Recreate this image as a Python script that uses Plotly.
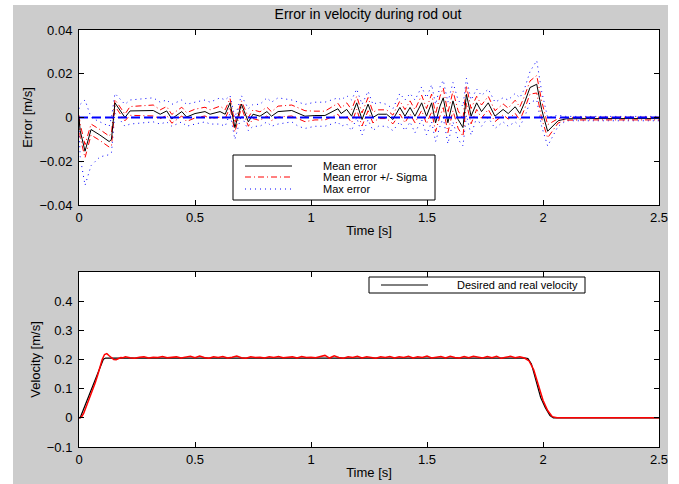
import plotly.graph_objects as go
from plotly.subplots import make_subplots

# ---------------- data: top panel (error statistics) ----------------
t_err = [0.000, 0.005, 0.026, 0.052, 0.09, 0.13, 0.14, 0.155, 0.198, 0.22,
         0.32, 0.35, 0.378, 0.40, 0.443, 0.464, 0.50, 0.543, 0.565, 0.608,
         0.63, 0.651, 0.672, 0.70, 0.73, 0.75, 0.78, 0.81, 0.83, 0.858,
         0.917, 0.945, 0.974, 1.017, 1.06, 1.116, 1.13, 1.154, 1.175, 1.197,
         1.22, 1.246, 1.267, 1.29, 1.326, 1.353, 1.383, 1.405, 1.427, 1.448,
         1.477, 1.498, 1.52, 1.537, 1.556, 1.57, 1.59, 1.612, 1.634, 1.655,
         1.67, 1.69, 1.714, 1.735, 1.764, 1.793, 1.828, 1.85, 1.88, 1.90,
         1.92, 1.944, 1.973, 1.994, 2.02, 2.065, 2.10, 2.2, 2.3, 2.4, 2.5]
mean_err = [0.000, -0.006, -0.0154, -0.0055, -0.008, -0.011, -0.010, 0.0067, 0.000, 0.003,
            0.0032, 0.0015, 0.003, -0.0006, 0.0027, 0.0002, 0.0018, 0.0027, 0.0015, 0.0027,
            0.0015, 0.0067, -0.0046, 0.0061, -0.002, 0.0015, 0.0006, 0.0027, 0.0006, 0.0027,
            0.0032, 0.0018, 0.0006, 0.0009, 0.0009, 0.004, 0.0018, 0.0037, 0.0006, 0.0067,
            -0.0009, 0.0061, 0.000, 0.0015, 0.0015, -0.0009, 0.0046, 0.0006, 0.0046, 0.0006,
            0.0067, 0.0006, 0.0067, -0.0024, 0.0052, 0.009, -0.0024, 0.0076, -0.0009, -0.0046,
            0.0106, 0.0006, 0.0067, 0.0027, 0.0067, 0.0006, 0.0037, 0.0018, 0.0049, 0.0018,
            0.0067, 0.0137, 0.0152, 0.0037, -0.0063, -0.0015, -0.0006, -0.0005, -0.0004, -0.0005, -0.0005]
sigma_err = [0.001, 0.003, 0.003, 0.0025, 0.0025, 0.0025, 0.003, 0.0015, 0.0015, 0.002,
             0.0025, 0.002, 0.002, 0.002, 0.002, 0.002, 0.002, 0.002, 0.002, 0.0025,
             0.002, 0.002, 0.002, 0.0015, 0.002, 0.002, 0.002, 0.002, 0.002, 0.0025,
             0.0025, 0.0025, 0.0025, 0.002, 0.002, 0.0025, 0.0025, 0.003, 0.003, 0.003,
             0.003, 0.003, 0.0025, 0.002, 0.002, 0.002, 0.003, 0.003, 0.003, 0.003,
             0.0035, 0.0035, 0.004, 0.004, 0.0045, 0.0045, 0.0045, 0.0045, 0.004, 0.004,
             0.004, 0.0035, 0.003, 0.003, 0.003, 0.0025, 0.0025, 0.0025, 0.003, 0.003,
             0.003, 0.003, 0.004, 0.004, 0.003, 0.001, 0.0006, 0.0006, 0.0006, 0.0006, 0.0006]
max_err = [0.004, 0.006, 0.008, 0.000, -0.002, -0.004, 0.000, 0.011, 0.006, 0.008,
           0.009, 0.007, 0.008, 0.006, 0.008, 0.006, 0.007, 0.008, 0.007, 0.009,
           0.008, 0.010, 0.000, 0.010, 0.004, 0.006, 0.006, 0.009, 0.007, 0.009,
           0.008, 0.007, 0.006, 0.007, 0.007, 0.009, 0.008, 0.010, 0.008, 0.013,
           0.006, 0.012, 0.006, 0.007, 0.006, 0.004, 0.011, 0.008, 0.011, 0.008,
           0.014, 0.009, 0.015, 0.006, 0.014, 0.017, 0.007, 0.016, 0.008, 0.005,
           0.018, 0.008, 0.013, 0.010, 0.013, 0.007, 0.009, 0.008, 0.011, 0.009,
           0.013, 0.021, 0.026, 0.012, 0.000, 0.001, 0.0005, 0.0005, 0.0005, 0.0005, 0.0005]
min_err = [-0.004, -0.018, -0.031, -0.022, -0.018, -0.017, -0.016, 0.002, -0.004, -0.003,
           -0.002, -0.003, -0.002, -0.004, -0.002, -0.004, -0.003, -0.002, -0.003, -0.003,
           -0.004, 0.002, -0.010, 0.001, -0.006, -0.004, -0.004, -0.002, -0.004, -0.003,
           -0.002, -0.004, -0.005, -0.004, -0.004, -0.002, -0.004, -0.003, -0.006, 0.000,
           -0.008, -0.001, -0.006, -0.004, -0.004, -0.006, -0.002, -0.006, -0.002, -0.007,
           -0.001, -0.008, -0.002, -0.011, -0.004, 0.000, -0.012, -0.002, -0.010, -0.013,
           0.001, -0.008, 0.000, -0.004, 0.000, -0.005, -0.002, -0.004, -0.002, -0.004,
           0.000, 0.007, 0.008, -0.004, -0.013, -0.004, -0.0015, -0.0015, -0.0015, -0.0015, -0.0015]
t_zero = [0.0, 2.5]
zero_ref = [0.0, 0.0]

# ---------------- data: bottom panel (velocity) ----------------
t_des = [0.0, 0.005, 0.105, 0.115, 1.925, 1.935, 1.95, 1.97, 1.99, 2.01, 2.03, 2.045, 2.5]
v_des = [0.0, 0.0, 0.201, 0.205, 0.205, 0.203, 0.185, 0.125, 0.07, 0.035, 0.008, 0.0, 0.0]

t_real = [0.00, 0.01, 0.02, 0.03, 0.04, 0.05, 0.06, 0.07, 0.08, 0.09,
          0.10, 0.11, 0.12, 0.13, 0.14, 0.15, 0.16, 0.17, 0.18, 0.19, 0.20,
          0.22, 0.24, 0.26, 0.28, 0.30, 0.32, 0.34, 0.36, 0.38, 0.40,
          0.42, 0.44, 0.46, 0.48, 0.50, 0.52, 0.54, 0.56, 0.58, 0.60,
          0.62, 0.64, 0.66, 0.68, 0.70, 0.72, 0.74, 0.76, 0.78, 0.80,
          0.82, 0.84, 0.86, 0.88, 0.90, 0.92, 0.94, 0.96, 0.98, 1.00,
          1.02, 1.04, 1.06, 1.08, 1.10, 1.12, 1.14, 1.16, 1.18, 1.20,
          1.22, 1.24, 1.26, 1.28, 1.30, 1.32, 1.34, 1.36, 1.38, 1.40,
          1.42, 1.44, 1.46, 1.48, 1.50, 1.52, 1.54, 1.56, 1.58, 1.60,
          1.62, 1.64, 1.66, 1.68, 1.70, 1.72, 1.74, 1.76, 1.78, 1.80,
          1.82, 1.84, 1.86, 1.88, 1.90, 1.92, 1.94, 1.96, 1.98, 2.00,
          2.02, 2.04, 2.06, 2.5]
v_real = [0.000, 0.002, 0.015, 0.035, 0.055, 0.075, 0.097, 0.120, 0.145, 0.175,
          0.200, 0.217, 0.220, 0.213, 0.205, 0.200, 0.199, 0.203, 0.207, 0.206, 0.209,
          0.206, 0.204, 0.208, 0.209, 0.205, 0.208, 0.207, 0.210, 0.206, 0.208,
          0.209, 0.205, 0.207, 0.211, 0.206, 0.212, 0.207, 0.204, 0.209, 0.207,
          0.210, 0.205, 0.208, 0.212, 0.206, 0.204, 0.209, 0.207, 0.208, 0.205,
          0.209, 0.207, 0.210, 0.206, 0.208, 0.209, 0.205, 0.210, 0.207, 0.208,
          0.206, 0.209, 0.214, 0.205, 0.213, 0.207, 0.204, 0.209, 0.207, 0.211,
          0.205, 0.209, 0.207, 0.204, 0.209, 0.207, 0.210, 0.205, 0.209, 0.207,
          0.211, 0.205, 0.209, 0.207, 0.212, 0.205, 0.208, 0.210, 0.205, 0.211,
          0.207, 0.205, 0.210, 0.206, 0.211, 0.207, 0.205, 0.210, 0.206, 0.211,
          0.204, 0.208, 0.211, 0.206, 0.209, 0.205, 0.195, 0.165, 0.110, 0.060,
          0.025, 0.004, 0.000, 0.000]

x_ticks = [0, 0.5, 1, 1.5, 2, 2.5]
err_ticks = [-0.04, -0.02, 0, 0.02, 0.04]
vel_ticks = [-0.1, 0, 0.1, 0.2, 0.3, 0.4]

# ---------------- figure ----------------
FONT = "Liberation Sans, Arial, Helvetica, sans-serif"
W, H = 679, 484
ML, MR, MT, MB = 79, 20, 30, 37
PW, PH = W - ML - MR, H - MT - MB

def fy(ypx):
    return (H - MB - ypx) / PH

def fx(xpx):
    return (xpx - ML) / PW

fig = make_subplots(rows=2, cols=1)

upper = [m + s for m, s in zip(mean_err, sigma_err)]
lower = [m - s for m, s in zip(mean_err, sigma_err)]

DOT = "1px,4px"
DASHDOT = "6px,3px,1px,3px"

fig.add_trace(go.Scatter(x=t_err, y=max_err, mode="lines", name="Max error",
                         line=dict(color="#0000ff", width=1, dash=DOT)), row=1, col=1)
fig.add_trace(go.Scatter(x=t_err, y=min_err, mode="lines", showlegend=False,
                         line=dict(color="#0000ff", width=1, dash=DOT)), row=1, col=1)
fig.add_trace(go.Scatter(x=t_err, y=upper, mode="lines", name="Mean error +/- Sigma",
                         line=dict(color="#ff0000", width=1, dash=DASHDOT)), row=1, col=1)
fig.add_trace(go.Scatter(x=t_err, y=lower, mode="lines", showlegend=False,
                         line=dict(color="#ff0000", width=1, dash=DASHDOT)), row=1, col=1)
fig.add_trace(go.Scatter(x=t_err, y=mean_err, mode="lines", name="Mean error",
                         line=dict(color="#000000", width=1)), row=1, col=1)
fig.add_trace(go.Scatter(x=t_zero, y=zero_ref, mode="lines", showlegend=False,
                         line=dict(color="#0000ff", width=2, dash="9px,4px")), row=1, col=1)

fig.add_trace(go.Scatter(x=t_des, y=v_des, mode="lines", name="Desired and real velocity",
                         line=dict(color="#000000", width=1.2)), row=2, col=1)
fig.add_trace(go.Scatter(x=t_real, y=v_real, mode="lines", showlegend=False,
                         line=dict(color="#ff0000", width=1.5)), row=2, col=1)

axis_common = dict(showline=True, linecolor="black", linewidth=1, mirror="ticks",
                   ticks="inside", ticklen=5, tickcolor="black", showgrid=False,
                   zeroline=False, tickfont=dict(family=FONT, size=13, color="black"))

fig.update_xaxes(**axis_common, range=[0, 2.5], tickvals=x_ticks,
                 title=dict(text="Time [s]", font=dict(family=FONT, size=13, color="black"),
                            standoff=2))
fig.update_yaxes(**axis_common, ticklabelstandoff=3)
fig.update_yaxes(range=[-0.04, 0.04], tickvals=err_ticks, row=1, col=1,
                 title=dict(text="Error [m/s]", font=dict(family=FONT, size=13, color="black"),
                            standoff=3))
fig.update_yaxes(range=[-0.1, 0.5], tickvals=vel_ticks, row=2, col=1,
                 title=dict(text="Velocity [m/s]", font=dict(family=FONT, size=13, color="black"),
                            standoff=3))
fig.update_xaxes(domain=[0, 1])
fig.update_yaxes(domain=[fy(205), 1.0], row=1, col=1)
fig.update_yaxes(domain=[0.0, fy(272)], row=2, col=1)

shapes = []
annotations = []
# white strips outside the gray figure area
white = dict(type="rect", xref="paper", yref="paper", fillcolor="white",
             line=dict(width=0), layer="above")
shapes.append(dict(white, x0=fx(0), x1=fx(13), y0=fy(H), y1=fy(0)))
shapes.append(dict(white, x0=fx(668), x1=fx(W), y0=fy(H), y1=fy(0)))
shapes.append(dict(white, x0=fx(0), x1=fx(W), y0=fy(5), y1=fy(0)))

# manual legend, top panel
lg = dict(xref="x domain", yref="y domain")
def ty(ypx):
    return (205 - ypx) / 175
shapes.append(dict(lg, type="rect", x0=(233 - 79) / 580, x1=(435 - 79) / 580,
                   y0=ty(200), y1=ty(155), fillcolor="white",
                   line=dict(color="black", width=1)))
legend_top = [("Mean error", "#000000", "solid", 166),
              ("Mean error +/- Sigma", "#ff0000", DASHDOT, 177),
              ("Max error", "#0000ff", DOT, 189)]
for label, col, dash, ypx in legend_top:
    shapes.append(dict(lg, type="line", x0=(245 - 79) / 580, x1=(292 - 79) / 580,
                       y0=ty(ypx), y1=ty(ypx), line=dict(color=col, width=1, dash=dash)))
    annotations.append(dict(lg, x=(321 - 79) / 580, y=ty(ypx), text=label, showarrow=False,
                            xanchor="left", yanchor="middle",
                            font=dict(family=FONT, size=11, color="black")))

# manual legend, bottom panel
lg2 = dict(xref="x2 domain", yref="y2 domain")
def by(ypx):
    return (447 - ypx) / 175
shapes.append(dict(lg2, type="rect", x0=(369 - 79) / 580, x1=(585 - 79) / 580,
                   y0=by(293), y1=by(277), fillcolor="white",
                   line=dict(color="black", width=1)))
shapes.append(dict(lg2, type="line", x0=(381 - 79) / 580, x1=(428 - 79) / 580,
                   y0=by(285), y1=by(285), line=dict(color="black", width=1)))
annotations.append(dict(lg2, x=(455 - 79) / 580, y=by(285), text="Desired and real velocity",
                        showarrow=False, xanchor="left", yanchor="middle",
                        font=dict(family=FONT, size=11, color="black")))

fig.update_layout(
    width=W, height=H,
    margin=dict(l=ML, r=MR, t=MT, b=MB, autoexpand=False),
    paper_bgcolor="#cccccc", plot_bgcolor="white",
    showlegend=False,
    title=dict(text="Error in velocity during rod out", x=fx(368), xref="paper",
               xanchor="center", y=1 - 14 / H, yanchor="middle",
               font=dict(family=FONT, size=14, color="black")),
    shapes=shapes, annotations=annotations,
)

fig.write_html("out.html", config={"displayModeBar": False},
               post_script="document.body.style.margin='0';document.body.style.overflow='hidden';")
